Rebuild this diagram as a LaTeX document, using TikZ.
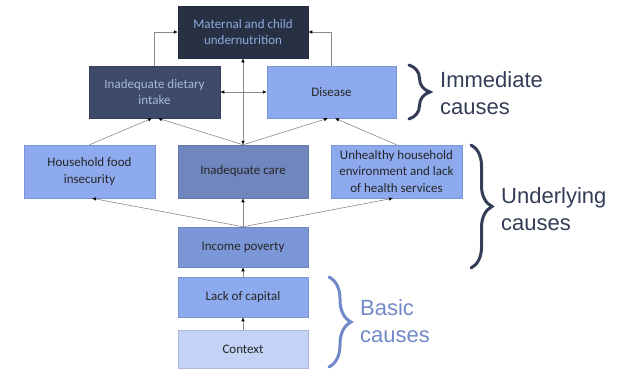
\documentclass[tikz,border=0pt]{standalone}
\usepackage{fontspec}
\setmainfont{Carlito}
\newfontfamily\brfont{Liberation Sans}
\usetikzlibrary{arrows.meta,decorations.pathreplacing}
\definecolor{navy}{HTML}{283044}
\definecolor{slate}{HTML}{3E4A6A}
\definecolor{midblue}{HTML}{6F86BF}
\definecolor{incblue}{HTML}{7B97D7}
\definecolor{lightblue}{HTML}{8EAAEE}
\definecolor{paleblue}{HTML}{C3D2F5}
\definecolor{txtlight}{HTML}{8FAADF}
\definecolor{txtslate}{HTML}{A9B7DE}
\definecolor{txtdark}{HTML}{262626}
\definecolor{bracedark}{HTML}{343D57}
\definecolor{bracebasic}{HTML}{7189C8}
\definecolor{linegray}{HTML}{8A8A8A}
\begin{document}
\begin{tikzpicture}[x=1pt,y=-1pt,
  box/.style={fill=#1, draw=#1!88!black, line width=0.5pt, align=center, inner sep=1pt,
    font=\fontsize{13}{16.5}\selectfont, text=txtdark},
  arr/.style={draw=linegray, line width=0.6pt, -{Latex[length=4pt,width=3.6pt,color=black]}},
  darr/.style={draw=linegray, line width=0.6pt, {Latex[length=4pt,width=3.6pt,color=black]}-{Latex[length=4pt,width=3.6pt,color=black]}},
  brlabel/.style={font=\brfont\fontsize{22}{27}\selectfont, align=left, anchor=west, inner sep=0pt},
  cbrace/.style={decorate, decoration={brace, amplitude=#1}, line width=3pt, line cap=round}
]
\useasboundingbox (0,0) rectangle (617,368);

% boxes
\node[box=navy, text=txtlight, minimum width=130pt, minimum height=52pt] (top) at (243,32) {Maternal and child\\undernutrition};
\node[box=slate, text=txtslate, minimum width=131pt, minimum height=52pt] (diet) at (154.5,92) {Inadequate dietary\\intake};
\node[box=lightblue, minimum width=129pt, minimum height=52pt] (dis) at (331.5,92) {Disease};
\node[box=lightblue, minimum width=131pt, minimum height=53pt] (house) at (89.5,171.5) {Household food\\insecurity};
\node[box=midblue, minimum width=130pt, minimum height=53pt] (care) at (243,171.5) {Inadequate care};
\node[box=lightblue, minimum width=131pt, minimum height=53pt] (unh) at (396.5,171.5) {Unhealthy household\\environment and lack\\of health services};
\node[box=incblue, minimum width=130pt, minimum height=40pt] (inc) at (243,247) {Income poverty};
\node[box=lightblue, minimum width=130pt, minimum height=40pt] (cap) at (243,297) {Lack of capital};
\node[box=paleblue, minimum width=130pt, minimum height=38pt] (ctx) at (243,349) {Context};

% connectors
\draw[arr] (diet.north) |- (top.west);
\draw[arr] (dis.north) |- (top.east);
\draw[darr] (diet.east) -- (dis.west);
\draw[darr] (care.north) -- (top.south);
\draw[arr] (house.north) -- ([xshift=-2.5pt]diet.south);
\draw[arr] (care.north) -- ([xshift=3.5pt]diet.south);
\draw[arr] (care.north) -- ([xshift=-3.5pt]dis.south);
\draw[arr] (unh.north) -- ([xshift=3.5pt]dis.south);
\draw[arr] (inc.north) -- ([xshift=2.5pt]house.south);
\draw[arr] (inc.north) -- (care.south);
\draw[arr] (inc.north) -- ([xshift=-3.5pt]unh.south);
\draw[arr] (cap.north) -- (inc.south);
\draw[arr] (ctx.north) -- (cap.south);

% braces
\coordinate (b1a) at (409,65);
\coordinate (b1b) at (409,119);
\draw[bracedark, cbrace=21pt] (b1a) -- (b1b);
\node[brlabel, text=bracedark] (l1) at (440,93.4) {Immediate\\causes};
\coordinate (b2a) at (471,145);
\coordinate (b2b) at (471,268);
\draw[bracedark, cbrace=21pt] (b2a) -- (b2b);
\node[brlabel, text=bracedark] (l2) at (501,209.4) {Underlying\\causes};
\coordinate (b3a) at (329,277);
\coordinate (b3b) at (329,367);
\draw[bracebasic, cbrace=22pt] (b3a) -- (b3b);
\node[brlabel, text=bracebasic] (l3) at (360,321.4) {Basic\\causes};
\end{tikzpicture}
\end{document}
